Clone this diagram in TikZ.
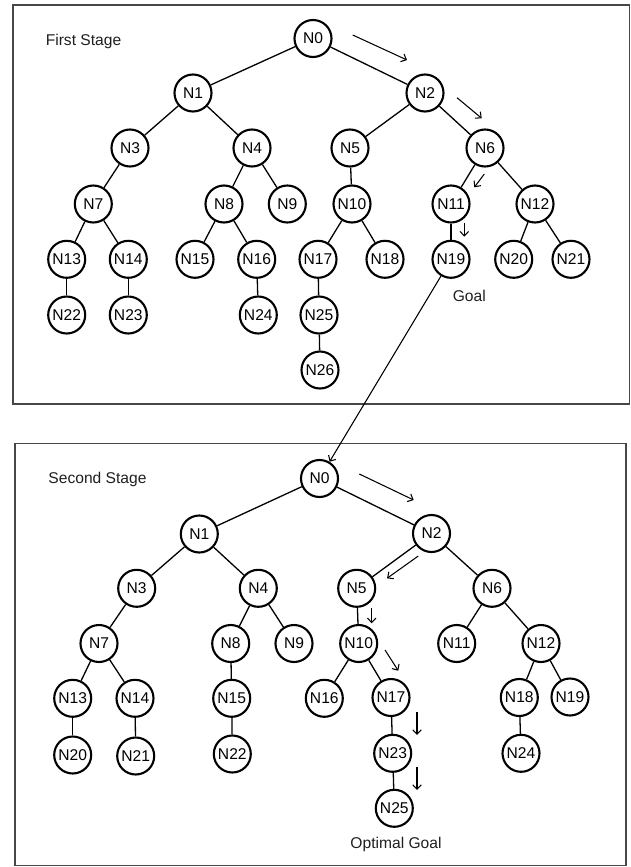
\documentclass[tikz,border=0pt]{standalone}
\usepackage{fontspec}
\setmainfont{Liberation Sans}
\usetikzlibrary{arrows.meta}
\tikzset{
  tn/.style={circle,draw=black,line width=2.1pt,minimum size=37pt,inner sep=0pt,
    font=\fontsize{15.6}{18}\selectfont,text=black},
  edge/.style={line width=1.3pt,black},
  hint/.style={line width=1.05pt,black,-{Straight Barb[length=4.5pt,width=8.5pt]}},
  stagebox/.style={line width=1.6pt,draw=black!72},
  lbl/.style={font=\fontsize{15.6}{18}\selectfont,text=black!88,inner sep=0pt}
}
\begin{document}
\begin{tikzpicture}[x=1pt,y=-1pt]
\useasboundingbox (0,0) rectangle (631,867);
% boxes
\draw[stagebox] (12.7,5.3) rectangle (629.3,404);
\draw[stagebox] (15,443.3) rectangle (626,865.5);
\node[lbl] (t1) at (83.5,41) {First Stage};
\node[lbl] (t2) at (97.5,479.3) {Second Stage};
\node[lbl] (g1) at (469.3,295.7) {Goal};
\node[lbl] (g2) at (396,844) {Optimal Goal};
% ---------- first stage ----------
\node[tn] (a0) at (313,38.5) {N0};
\node[tn] (a1) at (193,93) {N1};
\node[tn] (a2) at (425,93) {N2};
\node[tn] (a3) at (130,148) {N3};
\node[tn] (a4) at (252,148) {N4};
\node[tn] (a5) at (350,148) {N5};
\node[tn] (a6) at (485,148) {N6};
\node[tn] (a7) at (93.3,204) {N7};
\node[tn] (a8) at (224,204) {N8};
\node[tn] (a9) at (287.3,204) {N9};
\node[tn] (a10) at (352,204) {N10};
\node[tn] (a11) at (451,204) {N11};
\node[tn] (a12) at (535,204) {N12};
\node[tn] (a13) at (66.7,259.3) {N13};
\node[tn] (a14) at (128.3,259.3) {N14};
\node[tn] (a15) at (195,259.3) {N15};
\node[tn] (a16) at (256.7,259.3) {N16};
\node[tn] (a17) at (318,259.3) {N17};
\node[tn] (a18) at (385,259.3) {N18};
\node[tn] (a19) at (451,259.3) {N19};
\node[tn] (a20) at (513.7,259.3) {N20};
\node[tn] (a21) at (571,259.3) {N21};
\node[tn] (a22) at (66.7,315) {N22};
\node[tn] (a23) at (128.3,315) {N23};
\node[tn] (a24) at (258.3,315) {N24};
\node[tn] (a25) at (319,315) {N25};
\node[tn] (a26) at (320,370) {N26};
\foreach \p/\c in {0/1,0/2,1/3,1/4,2/5,2/6,3/7,4/8,4/9,5/10,6/11,6/12,7/13,7/14,8/15,8/16,10/17,10/18,11/19,12/20,12/21,13/22,14/23,16/24,17/25,25/26}
  \draw[edge] (a\p) -- (a\c);
% ---------- second stage ----------
\node[tn] (b0) at (319.5,478.5) {N0};
\node[tn] (b1) at (199.3,534) {N1};
\node[tn] (b2) at (431.5,533.5) {N2};
\node[tn] (b3) at (136.7,588.3) {N3};
\node[tn] (b4) at (258.3,588.3) {N4};
\node[tn] (b5) at (356.7,588.3) {N5};
\node[tn] (b6) at (492,588.3) {N6};
\node[tn] (b7) at (99,643.5) {N7};
\node[tn] (b8) at (230.7,643.5) {N8};
\node[tn] (b9) at (294,643.5) {N9};
\node[tn] (b10) at (358.7,643.5) {N10};
\node[tn] (b11) at (456.7,643.5) {N11};
\node[tn] (b12) at (541,643.5) {N12};
\node[tn] (b13) at (72.7,698.3) {N13};
\node[tn] (b14) at (135,698.3) {N14};
\node[tn] (b15) at (231.7,698.3) {N15};
\node[tn] (b16) at (324.3,698.3) {N16};
\node[tn] (b17) at (391,697.5) {N17};
\node[tn] (b18) at (519.3,697.5) {N18};
\node[tn] (b19) at (570,697) {N19};
\node[tn] (b20) at (72.7,755) {N20};
\node[tn] (b21) at (135.7,756) {N21};
\node[tn] (b22) at (232.3,754) {N22};
\node[tn] (b23) at (392.7,753.3) {N23};
\node[tn] (b24) at (521,753.3) {N24};
\node[tn] (b25) at (394.3,808.3) {N25};
\foreach \p/\c in {0/1,0/2,1/3,1/4,2/5,2/6,3/7,4/8,4/9,5/10,6/11,6/12,7/13,7/14,8/15,10/16,10/17,12/18,12/19,13/20,14/21,15/22,17/23,18/24,23/25}
  \draw[edge] (b\p) -- (b\c);
% ---------- link between stages ----------
\draw[hint] (a19) -- (b0);
% ---------- search direction hints ----------
\coordinate (h1s) at (352.7,35);   \coordinate (h1e) at (407,60);
\coordinate (h2s) at (457,97.7);   \coordinate (h2e) at (481.7,118.3);
\coordinate (h3s) at (484.3,174);  \coordinate (h3e) at (474.3,187.3);
\coordinate (h4s) at (464.3,223.3);\coordinate (h4e) at (464.3,236.7);
\coordinate (k1s) at (359.3,474);  \coordinate (k1e) at (413.7,500);
\coordinate (k2s) at (418.3,556);  \coordinate (k2e) at (387,578.3);
\coordinate (k3s) at (371.7,608.3);\coordinate (k3e) at (371.7,623.3);
\coordinate (k4s) at (385,650);    \coordinate (k4e) at (398.3,670.7);
\coordinate (k5s) at (417,711.7);  \coordinate (k5e) at (417,735);
\coordinate (k6s) at (417,767.3);  \coordinate (k6e) at (417,790);
\foreach \s/\e in {h1s/h1e,h2s/h2e,h3s/h3e,h4s/h4e,k1s/k1e,k2s/k2e,k3s/k3e,k4s/k4e,k5s/k5e,k6s/k6e}
  \draw[hint] (\s) -- (\e);
\end{tikzpicture}
\end{document}
